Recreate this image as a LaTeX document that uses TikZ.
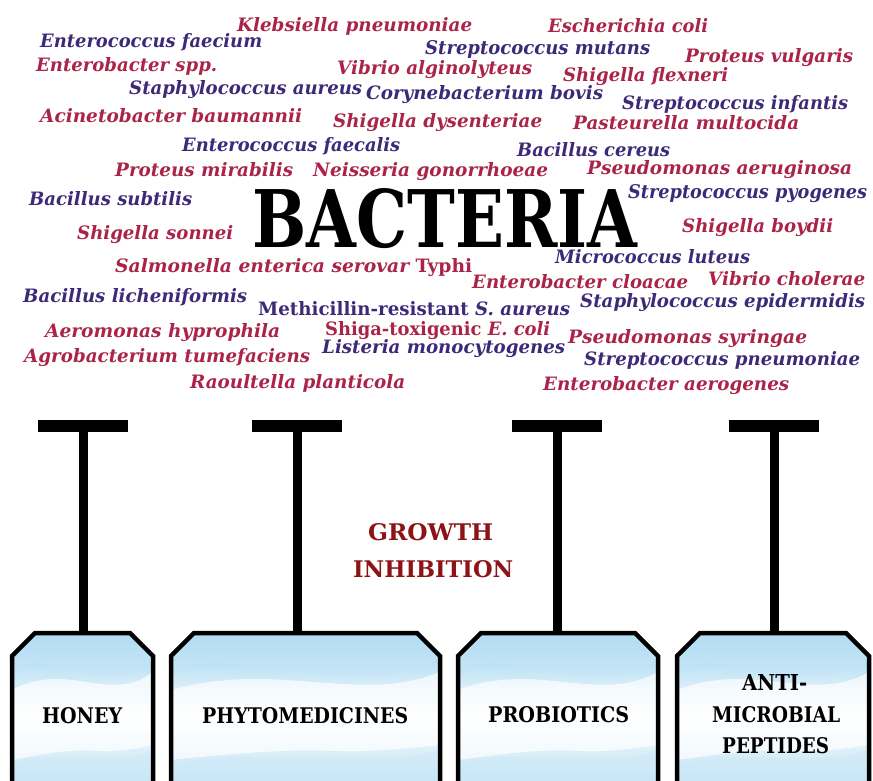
\documentclass[tikz,border=0pt]{standalone}
\usepackage{fontspec}
\usepackage{graphicx}
\newfontfamily\spf{DejaVu Serif}
\definecolor{sred}{RGB}{170,36,74}
\definecolor{sblue}{RGB}{60,42,120}
\definecolor{gred}{RGB}{140,20,22}
\definecolor{bxblue}{RGB}{150,208,238}
\newcommand{\fw}[2]{\resizebox{#1pt}{14pt}{#2}}
\newcommand{\fwh}[3]{\resizebox{#1pt}{#2pt}{#3}}
\begin{document}
\begin{tikzpicture}[x=1pt,y=-1pt,
  spname/.style={anchor=base west,inner sep=0pt,font={\spf\bfseries\itshape\fontsize{18}{18}\selectfont}},
  rd/.style={spname,text=sred},
  bl/.style={spname,text=sblue},
  caplbl/.style={anchor=base west,inner sep=0pt,font={\spf\bfseries\fontsize{18}{18}\selectfont}},
  tbar/.style={line width=12pt,black},
  tstem/.style={line width=9pt,black},
  boxline/.style={line width=4.5pt,black,line join=miter}]
\useasboundingbox (0,0) rectangle (873,781);
\clip (0,0) rectangle (873,781);
\fill[white] (0,0) rectangle (873,781);

% species
\node[rd] (s1) at (237,32) {\fw{235}{Klebsiella pneumoniae}};
\node[rd] (s2) at (548,33) {\fw{160}{Escherichia coli}};
\node[bl] (s3) at (40,48) {\fw{222}{Enterococcus faecium}};
\node[bl] (s4) at (425,55) {\fw{225}{Streptococcus mutans}};
\node[rd] (s5) at (685,63) {\fw{168}{Proteus vulgaris}};
\node[rd] (s6) at (36,72) {\fw{181}{Enterobacter spp.}};
\node[rd] (s7) at (337,75) {\fw{195}{Vibrio alginolyteus}};
\node[rd] (s8) at (563,82) {\fw{165}{Shigella flexneri}};
\node[bl] (s9) at (129,95) {\fw{233}{Staphylococcus aureus}};
\node[bl] (s10) at (366,100) {\fw{237}{Corynebacterium bovis}};
\node[bl] (s11) at (622,110) {\fw{226}{Streptococcus infantis}};
\node[rd] (s12) at (40,123) {\fw{262}{Acinetobacter baumannii}};
\node[rd] (s13) at (333,128) {\fw{209}{Shigella dysenteriae}};
\node[rd] (s14) at (573,130) {\fw{226}{Pasteurella multocida}};
\node[bl] (s15) at (182,152) {\fw{218}{Enterococcus faecalis}};
\node[bl] (s16) at (517,157) {\fw{153}{Bacillus cereus}};
\node[rd] (s17) at (115,177) {\fw{178}{Proteus mirabilis}};
\node[rd] (s18) at (313,177) {\fw{235}{Neisseria gonorrhoeae}};
\node[rd] (s19) at (587,175) {\fw{265}{Pseudomonas aeruginosa}};
\node[bl] (s20) at (29,205) {\fw{163}{Bacillus subtilis}};
\node[bl] (s21) at (628,198) {\fw{239}{Streptococcus pyogenes}};
\node[rd] (s22) at (77,240) {\fw{156}{Shigella sonnei}};
\node[rd] (s23) at (682,233) {\fw{151}{Shigella boydii}};
\node[bl] (s24) at (555,263) {\fw{195}{Micrococcus luteus}};
\node[rd] (s25) at (115,272) {\fw{357}{Salmonella enterica serovar {\upshape Typhi}}};
\node[rd] (s26) at (472,288) {\fw{216}{Enterobacter cloacae}};
\node[rd] (s27) at (708,285) {\fw{157}{Vibrio cholerae}};
\node[bl] (s28) at (23,302) {\fw{224}{Bacillus licheniformis}};
\node[bl] (s29) at (258,315) {\fw{312}{{\upshape Methicillin-resistant} S. aureus}};
\node[bl] (s30) at (580,307) {\fw{285}{Staphylococcus epidermidis}};
\node[rd] (s31) at (45,337) {\fw{235}{Aeromonas hyprophila}};
\node[rd] (s32) at (325,335) {\fw{225}{{\upshape Shiga-toxigenic} E. coli}};
\node[rd] (s33) at (568,343) {\fw{239}{Pseudomonas syringae}};
\node[rd] (s34) at (24,362) {\fw{286}{Agrobacterium tumefaciens}};
\node[bl] (s35) at (322,353) {\fw{243}{Listeria monocytogenes}};
\node[bl] (s36) at (584,365) {\fw{276}{Streptococcus pneumoniae}};
\node[rd] (s37) at (190,388) {\fw{215}{Raoultella planticola}};
\node[rd] (s38) at (543,390) {\fw{246}{Enterobacter aerogenes}};

% title
\node[caplbl] (title) at (252,247) {\fwh{385}{59}{BACTERIA}};

% growth inhibition
\node[caplbl,text=gred] (g1) at (368,540) {\fwh{125}{17}{GROWTH}};
\node[caplbl,text=gred] (g2) at (353,577) {\fwh{160}{17}{INHIBITION}};

% boxes
\foreach \n/\L/\R in {1/12/153,2/171/440,3/458/658,4/677/869}{
  \begin{scope}
    \clip (\L,800) -- (\L,656) -- (\L+23,633) -- (\R-23,633) -- (\R,656) -- (\R,800) -- cycle;
    \shade[top color=bxblue,bottom color=bxblue!80,middle color=white] (\L,633) rectangle (\R,800);
    \fill[bxblue!55,opacity=0.6] (\L,633) -- (\L,668) .. controls (\L*0.7+\R*0.3,648) and (\L*0.35+\R*0.65,700) .. (\R,660) -- (\R,633) -- cycle;
    \fill[white,opacity=0.7] (\L,690) .. controls (\L*0.6+\R*0.4,660) and (\L*0.3+\R*0.7,705) .. (\R,672) -- (\R,745) .. controls (\L*0.5+\R*0.5,760) and (\L*0.3+\R*0.7,740) .. (\L,760) -- cycle;
    \fill[bxblue!45,opacity=0.6] (\L,800) -- (\L,765) .. controls (\L*0.6+\R*0.4,745) and (\L*0.3+\R*0.7,770) .. (\R,750) -- (\R,800) -- cycle;
  \end{scope}
  \draw[boxline] (\L,800) -- (\L,656) -- (\L+23,633) -- (\R-23,633) -- (\R,656) -- (\R,800);
}

% box coordinates and T connectors
\foreach \n/\X in {1/83,2/297,3/557,4/774}{
  \coordinate (bar\n) at (\X,426);
  \coordinate (top\n) at (\X,633);
  \draw[tbar] ([xshift=-45pt]bar\n) -- ([xshift=45pt]bar\n);
  \draw[tstem] (bar\n) -- (top\n);
}

% box labels
\node[caplbl] (h) at (42,723) {\fwh{80}{16}{HONEY}};
\node[caplbl] (p) at (202,723) {\fwh{206}{16}{PHYTOMEDICINES}};
\node[caplbl] (pr) at (488,722) {\fwh{141}{16}{PROBIOTICS}};
\node[caplbl] (a1) at (742,690) {\fwh{65}{16}{ANTI-}};
\node[caplbl] (a2) at (712,722) {\fwh{128}{16}{MICROBIAL}};
\node[caplbl] (a3) at (722,753) {\fwh{107}{16}{PEPTIDES}};
\end{tikzpicture}
\end{document}
